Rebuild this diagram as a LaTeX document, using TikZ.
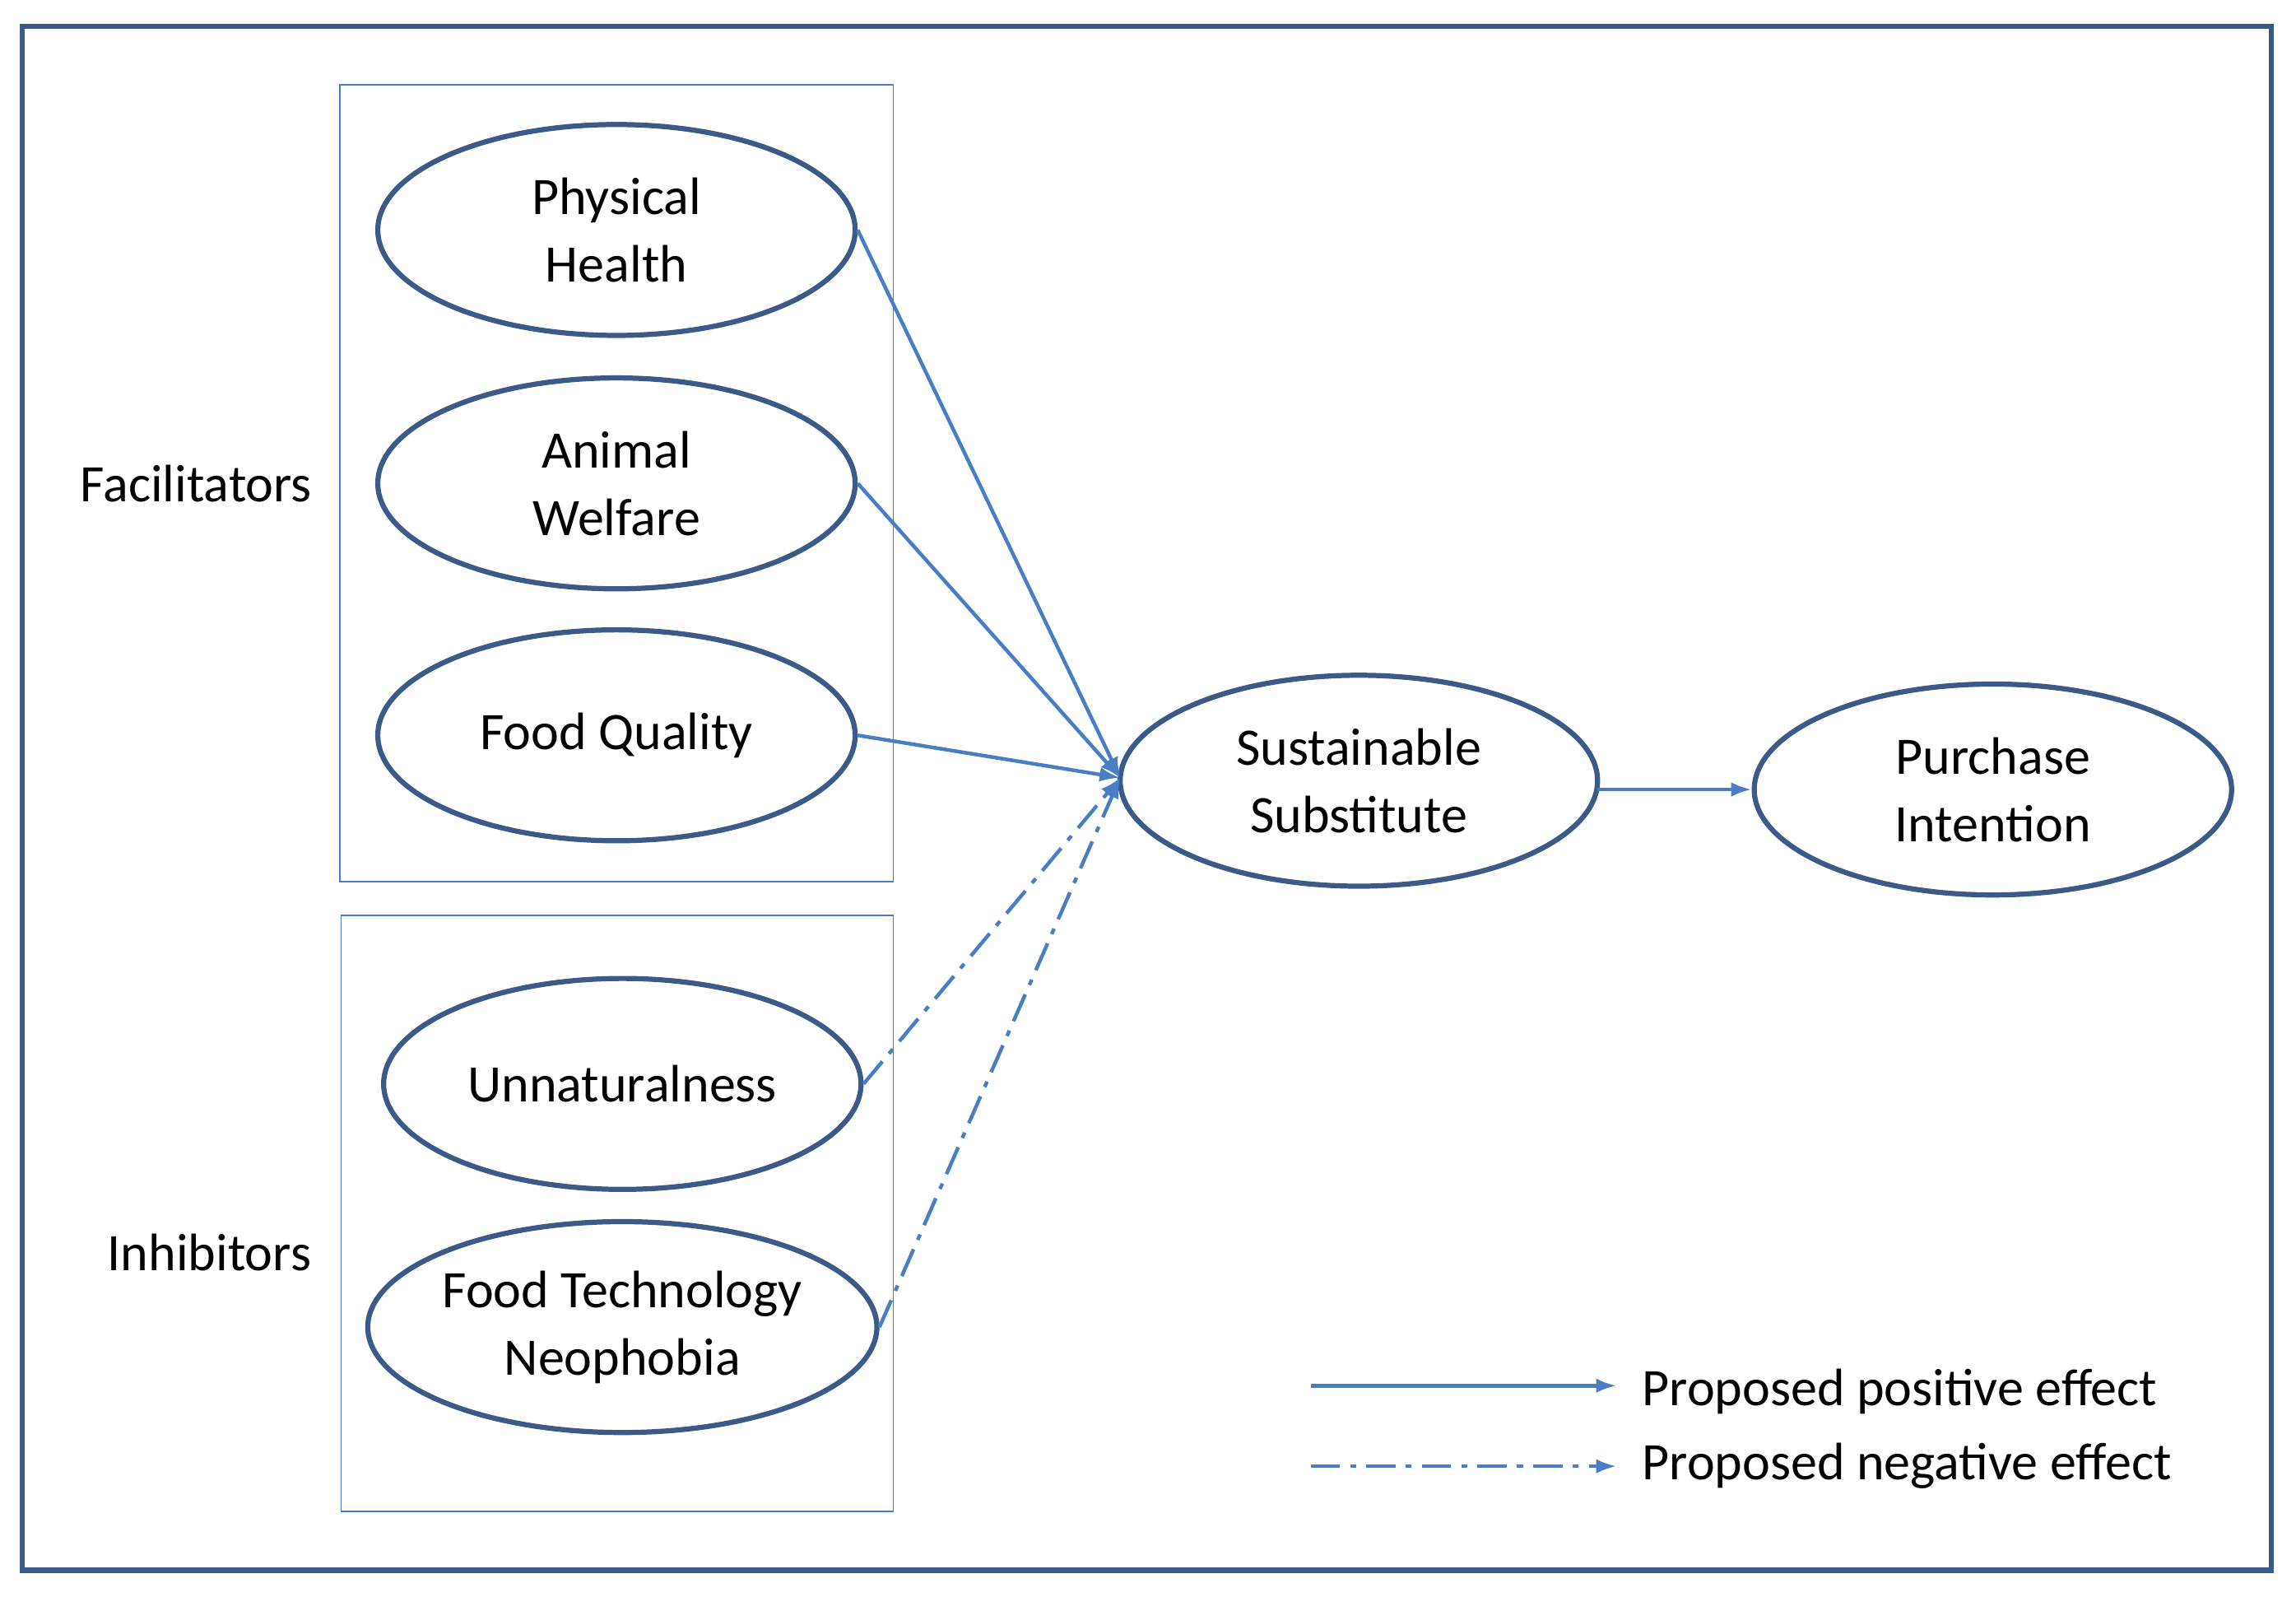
\documentclass[tikz,border=0pt]{standalone}
\usepackage{fontspec}
\setmainfont{Carlito}
\usetikzlibrary{shapes.geometric,arrows.meta}
\definecolor{dk}{HTML}{3B5A87}
\definecolor{lb}{HTML}{4A7EC4}
\tikzset{
 ell/.style={ellipse,draw=dk,line width=3.5pt,minimum width=326pt,minimum height=144pt,inner sep=0pt,align=center,font=\fontsize{36}{46}\selectfont},
 grp/.style={draw=lb,line width=1pt},
 posarr/.style={draw=lb,line width=2.5pt,-{Latex[length=14pt,width=10pt]}},
 negarr/.style={posarr,dash pattern=on 20pt off 7pt on 4pt off 7pt},
 lbl/.style={font=\fontsize{36}{46}\selectfont,anchor=west}
}
\begin{document}
\begin{tikzpicture}[x=1pt,y=-1pt]
\useasboundingbox (0,0) rectangle (1568,1090);
\draw[dk,line width=3.5pt] (15,18) rectangle (1551,1072);
\draw[grp] (232,58) rectangle (610,602);
\draw[grp] (233,625) rectangle (610,1032);
\node[ell] (ph) at (421,157) {Physical\\Health};
\node[ell] (aw) at (421,330) {Animal\\Welfare};
\node[ell] (fq) at (421,502) {Food Quality};
\node[ell] (un) at (425,740) {Unnaturalness};
\node[ell] (ft) at (425,906) {Food Technology\\Neophobia};
\node[ell] (ss) at (928,533) {Sustainable\\Substitute};
\node[ell] (pi) at (1361,539) {Purchase\\Intention};
\node[font=\fontsize{36}{46}\selectfont] (fac) at (134,330) {Facilitators};
\node[font=\fontsize{36}{46}\selectfont] (inh) at (143,855) {Inhibitors};
\coordinate (tgt) at (765,531);
\draw[posarr] (ph.east) -- (tgt);
\draw[posarr] (aw.east) -- (tgt);
\draw[posarr] (fq.east) -- (tgt);
\draw[negarr] (un.east) -- (tgt);
\draw[negarr] (ft.east) -- (tgt);
\draw[posarr] (1091,539) -- (pi.west);
\coordinate (l1a) at (895,946); \coordinate (l1b) at (1104,946);
\coordinate (l2a) at (895,1001); \coordinate (l2b) at (1104,1001);
\draw[posarr] (l1a) -- (l1b);
\draw[negarr] (l2a) -- (l2b);
\node[lbl] (t1) at (1118,950) {Proposed positive effect};
\node[lbl] (t2) at (1118,1001) {Proposed negative effect};
\end{tikzpicture}
\end{document}
